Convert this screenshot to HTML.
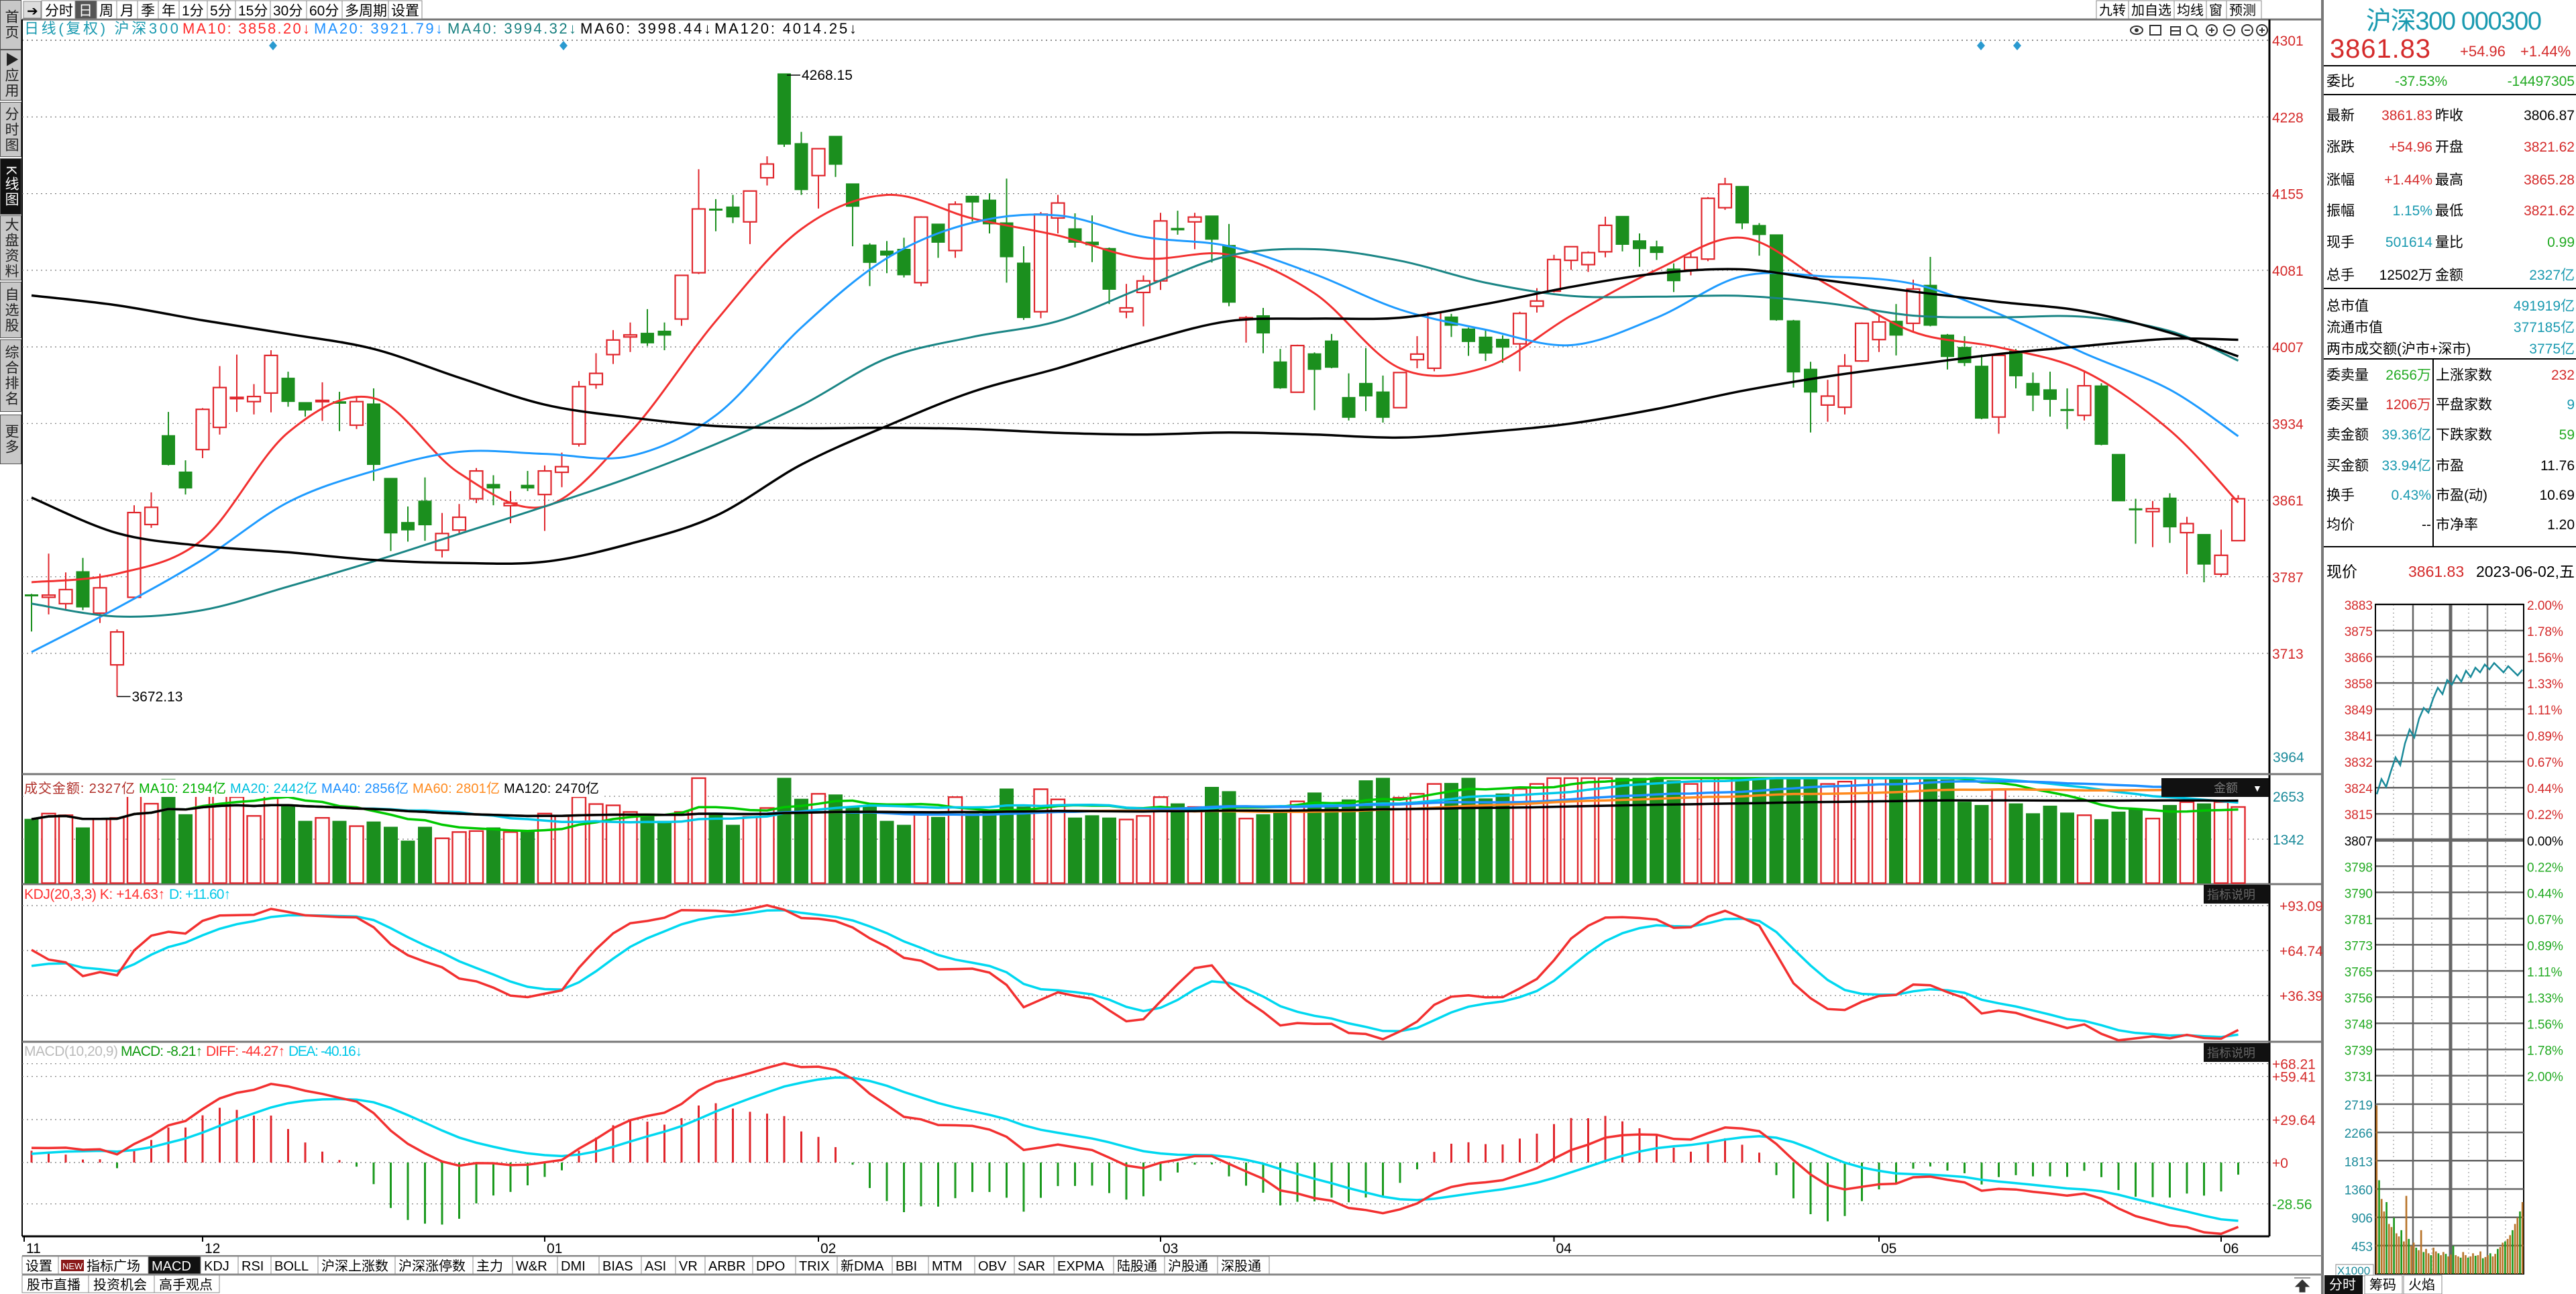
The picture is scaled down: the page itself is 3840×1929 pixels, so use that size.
<!DOCTYPE html>
<html><head><meta charset="utf-8"><title>沪深300 K线</title>
<style>
html,body{margin:0;padding:0;background:#fff;}
body{width:3840px;height:1929px;position:relative;overflow:hidden;font-family:"Liberation Sans","Noto Sans CJK SC",sans-serif;}
#sidebar{position:absolute;left:0;top:0;width:32px;height:700px;}
.sb{position:absolute;left:0;width:30px;background:#c8c8c8;border:1px solid #555;writing-mode:vertical-rl;font-size:21px;color:#222;display:flex;align-items:center;justify-content:center;letter-spacing:2px;font-family:"Liberation Sans","Noto Sans CJK SC",sans-serif;}
.sb.act{background:#111;color:#fff;}
svg text{font-family:"Liberation Sans","Noto Sans CJK SC",sans-serif;}
</style></head>
<body>
<div id="sidebar">
 <div class="sb" style="top:0;height:72px">首页</div>
 <div class="sb" style="top:74px;height:74px">▶应用</div>
 <div class="sb" style="top:152px;height:80px">分时图</div>
 <div class="sb act" style="top:236px;height:82px">K线图</div>
 <div class="sb" style="top:321px;height:95px">大盘资料</div>
 <div class="sb" style="top:420px;height:82px">自选股</div>
 <div class="sb" style="top:506px;height:106px">综合排名</div>
 <div class="sb" style="top:618px;height:72px">更多</div>
</div>
<svg id="chart" width="3840" height="1929" viewBox="0 0 3840 1929" style="position:absolute;left:0;top:0">
<g id="static">
 <rect x="33" y="0" width="3430" height="28" fill="#fff"/>
 <line x1="33" y1="29" x2="3462" y2="29" stroke="#777" stroke-width="3"/>
 <rect x="35" y="2" width="26" height="25" fill="#ddd" stroke="#888"/>
 <text x="40" y="23" font-size="20" fill="#000">➔</text>
 <g font-size="21" fill="#000">
  <rect x="62" y="1" width="50" height="27" fill="#fff" stroke="#888"/><text x="67" y="23">分时</text>
  <rect x="112" y="1" width="32" height="27" fill="#555" stroke="#888"/><text x="117" y="23" fill="#fff">日</text>
  <rect x="144" y="1" width="30" height="27" fill="#fff" stroke="#888"/><text x="148" y="23">周</text>
  <rect x="174" y="1" width="31" height="27" fill="#fff" stroke="#888"/><text x="179" y="23">月</text>
  <rect x="205" y="1" width="31" height="27" fill="#fff" stroke="#888"/><text x="210" y="23">季</text>
  <rect x="236" y="1" width="31" height="27" fill="#fff" stroke="#888"/><text x="241" y="23">年</text>
  <rect x="267" y="1" width="42" height="27" fill="#fff" stroke="#888"/><text x="271" y="23">1分</text>
  <rect x="309" y="1" width="42" height="27" fill="#fff" stroke="#888"/><text x="313" y="23">5分</text>
  <rect x="351" y="1" width="52" height="27" fill="#fff" stroke="#888"/><text x="355" y="23">15分</text>
  <rect x="403" y="1" width="54" height="27" fill="#fff" stroke="#888"/><text x="407" y="23">30分</text>
  <rect x="457" y="1" width="53" height="27" fill="#fff" stroke="#888"/><text x="461" y="23">60分</text>
  <rect x="510" y="1" width="69" height="27" fill="#fff" stroke="#888"/><text x="514" y="23">多周期</text>
  <rect x="579" y="1" width="50" height="27" fill="#fff" stroke="#888"/><text x="583" y="23">设置</text>
 </g>
 <g font-size="20" fill="#000">
  <rect x="3125" y="1" width="48" height="27" fill="#fff" stroke="#888"/><text x="3129" y="22">九转</text>
  <rect x="3173" y="1" width="68" height="27" fill="#fff" stroke="#888"/><text x="3177" y="22">加自选</text>
  <rect x="3241" y="1" width="48" height="27" fill="#fff" stroke="#888"/><text x="3245" y="22">均线</text>
  <rect x="3289" y="1" width="30" height="27" fill="#fff" stroke="#888"/><text x="3293" y="22">窗</text>
  <rect x="3319" y="1" width="52" height="27" fill="#fff" stroke="#888"/><text x="3323" y="22">预测</text>
 </g>
 <g font-size="22">
  <text x="36" y="50" fill="#1a9ab0" textLength="230">日线(复权)  沪深300</text>
  <text x="272" y="50" fill="#ff2a2a" textLength="190">MA10: 3858.20↓</text>
  <text x="468" y="50" fill="#1e90ff" textLength="192">MA20: 3921.79↓</text>
  <text x="667" y="50" fill="#198080" textLength="192">MA40: 3994.32↓</text>
  <text x="865" y="50" fill="#000" textLength="195">MA60: 3998.44↓</text>
  <text x="1065" y="50" fill="#000" textLength="212">MA120: 4014.25↓</text>
 </g>
 <line x1="33" y1="60" x2="3382" y2="60" stroke="#666" stroke-dasharray="2,5" stroke-width="1.5"/>
 <g fill="#2a9ad0">
  <path d="M407 61 L413 68 L407 75 L401 68Z"/><path d="M840 61 L846 68 L840 75 L834 68Z"/>
  <path d="M2953 61 L2959 68 L2953 75 L2947 68Z"/><path d="M3007 61 L3013 68 L3007 75 L3001 68Z"/>
 </g>
 <g stroke="#333" fill="none" stroke-width="2">
  <ellipse cx="3185" cy="45" rx="9" ry="6"/><circle cx="3185" cy="45" r="2" fill="#333"/>
  <rect x="3205" y="38" width="16" height="14"/>
  <path d="M3236 40 h14 v12 h-14z M3236 46 h14"/>
  <circle cx="3267" cy="45" r="7"/><path d="M3272 50 l5 5"/>
  <circle cx="3297" cy="45" r="8"/><path d="M3293 45 h8 M3297 41 v8"/>
  <circle cx="3323" cy="45" r="8"/><path d="M3319 45 h8"/>
  <circle cx="3350" cy="45" r="8"/><path d="M3346 45 h8"/>
  <circle cx="3372" cy="45" r="8"/><path d="M3368 45 h8 M3372 41 v8"/>
 </g>
 <line x1="33" y1="29" x2="33" y2="1843" stroke="#000" stroke-width="2"/>
 <line x1="3383" y1="29" x2="3383" y2="1843" stroke="#000" stroke-width="3"/>
 <line x1="33" y1="1154" x2="3462" y2="1154" stroke="#777" stroke-width="3"/>
 <line x1="33" y1="1318" x2="3462" y2="1318" stroke="#777" stroke-width="3"/>
 <line x1="33" y1="1553" x2="3462" y2="1553" stroke="#777" stroke-width="3"/>
 <line x1="33" y1="1843" x2="3383" y2="1843" stroke="#000" stroke-width="3"/>
 <line x1="3462" y1="0" x2="3462" y2="1929" stroke="#777" stroke-width="4"/>
 <g font-size="21">
  <text x="36" y="1340" fill="#ff3030" textLength="210">KDJ(20,3,3) K: +14.63↑</text>
  <text x="252" y="1340" fill="#00c8e8" textLength="92">D: +11.60↑</text>
 </g>
 <rect x="3285" y="1319" width="98" height="28" fill="#111"/>
 <text x="3290" y="1340" font-size="18" fill="#666">指标说明</text>
 <g font-size="21">
  <text x="36" y="1574" fill="#bbb" textLength="140">MACD(10,20,9)</text>
  <text x="180" y="1574" fill="#119911" textLength="122">MACD: -8.21↑</text>
  <text x="307" y="1574" fill="#ff3030" textLength="118">DIFF: -44.27↑</text>
  <text x="430" y="1574" fill="#00c8e8" textLength="110">DEA: -40.16↓</text>
 </g>
 <rect x="3285" y="1555" width="98" height="28" fill="#111"/>
 <text x="3290" y="1576" font-size="18" fill="#666">指标说明</text>
 <line x1="33" y1="1872" x2="3462" y2="1872" stroke="#888" stroke-width="2"/>
 <line x1="33" y1="1900" x2="3462" y2="1900" stroke="#888" stroke-width="3"/>
 <g id="tabs" font-size="20"></g>
 <g font-size="20" fill="#000">
  <rect x="33" y="1901" width="99" height="26" fill="#fff" stroke="#888"/><text x="40" y="1922">股市直播</text>
  <rect x="132" y="1901" width="98" height="26" fill="#fff" stroke="#888"/><text x="139" y="1922">投资机会</text>
  <rect x="230" y="1901" width="97" height="26" fill="#fff" stroke="#888"/><text x="237" y="1922">高手观点</text>
 </g>
 <path d="M3420 1905 h24 M3432 1908 l-10 10 h6 v8 h8 v-8 h6z" stroke="#333" fill="#333"/>
 <g>
  <text x="3527" y="44" font-size="38" fill="#1a9ab0" textLength="262">沪深300 000300</text>
  <text x="3473" y="86" font-size="40" fill="#d42a2a" textLength="150">3861.83</text>
  <text x="3667" y="84" font-size="22" fill="#d42a2a">+54.96</text>
  <text x="3757" y="84" font-size="22" fill="#d42a2a">+1.44%</text>
  <line x1="3464" y1="98" x2="3840" y2="98" stroke="#000" stroke-width="2"/>
  <g font-size="21">
   <text x="3468" y="128" fill="#000">委比</text><text x="3570" y="128" fill="#22aa22">-37.53%</text><text x="3838" y="128" fill="#22aa22" text-anchor="end">-14497305</text>
  </g>
  <line x1="3464" y1="141" x2="3840" y2="141" stroke="#000" stroke-width="2"/>
  <g id="quoteRows" font-size="21"></g>
  <line x1="3464" y1="430" x2="3840" y2="430" stroke="#000" stroke-width="2"/>
  <g font-size="21">
   <text x="3468" y="463" fill="#000">总市值</text><text x="3838" y="463" fill="#1a9ab0" text-anchor="end">491919亿</text>
   <text x="3468" y="495" fill="#000">流通市值</text><text x="3838" y="495" fill="#1a9ab0" text-anchor="end">377185亿</text>
   <text x="3468" y="527" fill="#000">两市成交额(沪市+深市)</text><text x="3838" y="527" fill="#1a9ab0" text-anchor="end">3775亿</text>
  </g>
  <line x1="3464" y1="535" x2="3840" y2="535" stroke="#000" stroke-width="2"/>
  <line x1="3627" y1="535" x2="3627" y2="815" stroke="#000" stroke-width="2"/>
  <g id="quoteRows2" font-size="21"></g>
  <line x1="3464" y1="815" x2="3840" y2="815" stroke="#000" stroke-width="2"/>
  <text x="3468" y="860" font-size="23" fill="#000">现价</text>
  <text x="3590" y="860" font-size="23" fill="#d42a2a">3861.83</text>
  <text x="3838" y="860" font-size="23" fill="#000" text-anchor="end">2023-06-02,五</text>
 </g>
 <g id="intraday"></g>
 <g>
  <rect x="3465" y="1901" width="57" height="28" fill="#111"/><text x="3472" y="1922" font-size="20" fill="#fff">分时</text>
  <rect x="3525" y="1901" width="56" height="28" fill="#fff" stroke="#888"/><text x="3532" y="1922" font-size="20">筹码</text>
  <rect x="3583" y="1901" width="57" height="28" fill="#fff" stroke="#888"/><text x="3590" y="1922" font-size="20">火焰</text>
 </g>
</g>
<g id="dyn"></g>
<g id="overlay">
 <rect x="35" y="1162" width="862" height="26" fill="#fff"/>
 <g font-size="20">
  <text x="36" y="1182" fill="#b0302a" textLength="165">成交金额: 2327亿</text>
  <text x="207" y="1182" fill="#00b000" textLength="130">MA10: 2194亿</text>
  <text x="343" y="1182" fill="#00c0e0" textLength="130">MA20: 2442亿</text>
  <text x="479" y="1182" fill="#1e90ff" textLength="130">MA40: 2856亿</text>
  <text x="615" y="1182" fill="#ff8a1e" textLength="130">MA60: 2801亿</text>
  <text x="751" y="1182" fill="#000" textLength="142">MA120: 2470亿</text>
 </g>
 <rect x="3222" y="1160" width="160" height="28" fill="#111"/>
 <text x="3300" y="1181" font-size="18" fill="#777">金额</text><text x="3358" y="1180" font-size="14" fill="#fff">▼</text>
</g>
</svg>
<script>
const opens=[3769.8,3767.3,3761.2,3792.0,3752.1,3702.5,3767.3,3837.1,3922.5,3887.6,3909.0,3930.3,3957.9,3955.0,3963.2,3977.6,3954.2,3955.0,3955.0,3932.4,3952.9,3881.5,3839.2,3859.7,3812.5,3831.8,3861.8,3875.7,3855.2,3874.9,3865.9,3887.2,3914.3,3971.4,4000.1,4017.0,4020.7,4022.7,4034.2,4078.6,4139.8,4141.8,4127.4,4169.7,4269.5,4202.6,4171.8,4209.6,4164.0,4105.3,4099.5,4101.2,4069.1,4125.4,4099.9,4152.1,4148.4,4126.6,4088.0,4041.2,4131.1,4120.9,4108.1,4102.0,4041.2,4059.7,4070.8,4121.3,4127.4,4133.2,4104.9,4033.8,4037.5,3993.2,3964.0,4001.0,4013.3,3959.1,3972.6,3964.4,3949.2,3995.2,3987.0,4036.3,4024.8,4017.0,4014.9,4010.4,4046.5,4060.9,4090.5,4086.4,4098.7,4132.8,4109.4,4103.6,4082.3,4081.4,4091.7,4141.0,4161.5,4124.1,4115.1,4032.6,3986.2,3951.7,3949.6,3994.0,4014.5,4032.2,4030.1,4066.7,4019.0,4007.1,3989.1,3940.2,4003.4,3972.6,3966.5,3947.6,3941.8,3970.2,3904.5,3852.3,3849.5,3862.6,3829.3,3827.7,3789.5,3821.62];
const closes=[3769.0,3769.4,3774.7,3757.9,3776.4,3734.1,3848.6,3853.6,3894.6,3872.0,3947.6,3968.5,3959.1,3959.9,3999.3,3955.0,3946.8,3956.2,3953.3,3955.0,3894.6,3828.9,3831.8,3836.7,3828.5,3844.1,3888.5,3872.0,3857.7,3872.0,3888.5,3892.6,3969.4,3982.1,4014.1,4019.0,4011.2,4018.6,4076.1,4139.8,4138.5,4132.0,4157.0,4182.9,4201.8,4158.2,4197.6,4182.5,4142.2,4088.4,4095.4,4076.5,4132.0,4107.7,4144.3,4146.3,4125.4,4093.8,4035.5,4134.8,4145.5,4107.7,4105.3,4062.6,4044.9,4070.8,4128.3,4119.6,4132.0,4110.6,4050.2,4035.5,4020.7,3968.1,4008.8,3985.8,3987.8,3939.8,3960.3,3939.8,3982.9,4000.6,4040.0,4028.1,4012.5,4001.4,4007.1,4039.6,4051.5,4091.3,4103.6,4097.9,4124.1,4105.7,4101.6,4097.9,4070.8,4093.4,4150.0,4163.6,4126.2,4115.1,4033.4,3983.3,3964.0,3960.3,3989.1,4030.1,4031.4,4018.6,4063.0,4028.1,3998.1,3992.3,3939.0,3999.3,3979.6,3961.1,3957.0,3946.4,3970.2,3913.9,3859.7,3851.1,3852.3,3834.7,3838.0,3799.0,3807.6,3861.83];
const highs=[3770.6,3809.2,3791.2,3805.1,3789.9,3736.5,3855.6,3867.9,3945.1,3898.7,3948.8,3989.1,4000.1,3971.8,4004.3,3983.7,3954.2,3973.5,3964.4,3960.3,3967.7,3881.5,3854.4,3882.3,3848.2,3856.8,3891.3,3884.4,3869.2,3888.5,3893.8,3906.1,3974.7,4001.4,4023.6,4030.9,4043.7,4030.9,4076.5,4177.9,4149.2,4153.3,4157.4,4190.3,4268.15,4213.7,4197.6,4209.6,4164.0,4106.9,4109.0,4112.2,4132.8,4125.4,4147.1,4152.1,4154.9,4168.9,4104.0,4136.9,4153.3,4135.6,4133.6,4102.8,4067.9,4076.1,4136.1,4138.1,4136.1,4133.2,4125.4,4037.1,4044.9,4005.5,4009.6,4002.2,4019.9,3982.1,4006.3,3980.0,3982.9,4017.8,4040.8,4039.2,4026.0,4024.0,4018.6,4041.2,4063.8,4095.8,4104.0,4099.1,4132.4,4132.8,4116.3,4109.4,4087.6,4097.9,4151.2,4169.7,4161.5,4126.2,4115.1,4033.4,3993.2,3975.9,4000.6,4030.9,4037.5,4048.6,4072.0,4093.8,4019.9,4017.8,4000.1,4000.1,4005.5,3982.9,3983.7,3967.7,3985.0,3972.6,3904.5,3861.8,3859.7,3867.1,3844.5,3827.7,3832.2,3865.28];
const lows=[3734.5,3750.9,3755.0,3755.0,3742.7,3672.13,3765.3,3833.9,3893.8,3865.9,3900.8,3923.4,3945.1,3942.7,3944.7,3950.1,3940.6,3936.5,3926.7,3928.7,3879.0,3811.7,3820.7,3821.5,3805.5,3828.9,3857.7,3855.6,3838.4,3869.2,3831.0,3872.9,3911.9,3967.3,3991.1,4002.6,4008.4,4004.3,4027.7,4077.3,4118.4,4126.2,4106.1,4162.3,4199.3,4153.3,4140.2,4170.5,4104.0,4065.8,4078.2,4074.1,4065.8,4092.9,4092.9,4127.8,4116.3,4069.1,4033.4,4035.0,4116.3,4102.8,4088.8,4048.6,4035.0,4027.2,4062.1,4115.1,4101.2,4088.4,4046.5,4011.6,4001.4,3967.3,3963.6,3946.8,3987.0,3936.9,3945.9,3934.9,3948.8,3987.0,3984.1,4017.0,3998.9,3994.0,3992.3,3984.1,4040.4,4059.7,4081.4,4079.4,4093.4,4099.1,4084.3,4090.9,4060.1,4076.1,4089.7,4138.9,4120.5,4095.0,4032.6,3968.5,3925.4,3935.7,3942.7,3993.2,4002.6,3999.3,4021.1,4027.2,3985.8,3989.1,3938.1,3924.2,3967.7,3945.9,3940.6,3928.7,3936.9,3913.1,3859.7,3818.7,3815.4,3819.5,3789.5,3781.7,3787.1,3821.62];
const volumes=[1954,2125,2075,1692,1974,1994,2971,2427,3172,2095,3031,2810,2628,2054,2749,2377,1893,1994,1893,1742,1873,1712,1289,1712,1370,1561,1591,1692,1561,1571,2125,2054,2628,2417,2377,2175,2075,1893,2175,3283,2125,1772,2024,2296,3384,2568,2729,2699,2326,2326,1893,1772,2175,2014,2628,2125,2226,2880,2326,2870,2558,1994,2064,1994,1944,2054,2628,2427,2326,2931,2800,1974,2095,2175,2498,2759,2427,2548,3132,3293,2608,2729,3031,3051,3233,2578,2729,2880,3031,3450,3500,3354,3233,3450,3313,3354,3132,3031,3384,3333,3132,3404,3600,3354,3384,3031,3102,3333,3333,3182,3333,3500,3152,2477,2377,2850,2427,2125,2357,2145,2075,1944,2175,2246,1974,2377,2477,2427,2477,2327];
const maIndex=[0,5,10,15,20,25,30,35,40,45,50,55,60,65,70,75,80,85,90,95,100,105,110,115,120,125,129];
const ma10=[3781.7,3789.9,3822.8,3925.4,3958.3,3886.4,3854.4,3925.4,4032.2,4120.5,4153.3,4130.7,4114.3,4092.5,4095.8,4058.9,3987.0,3987.8,4037.5,4081.4,4112.2,4067.1,4021.9,4007.1,3984.1,3927.5,3858.2];
const ma20=[3714.8,3757.1,3803.5,3858.5,3888.5,3906.9,3904.9,3902.8,3941.8,4026.0,4092.5,4126.6,4133.6,4113.1,4104.0,4077.3,4043.3,4024.0,4009.2,4035.5,4075.3,4074.9,4067.9,4039.2,4001.4,3966.5,3921.8];
const ma40=[3761.2,3748.9,3755.0,3777.6,3801.8,3828.1,3854.4,3882.3,3914.3,3951.3,3996.5,4017.0,4032.2,4064.6,4095.0,4101.2,4090.1,4069.1,4056.4,4055.6,4056.4,4049.4,4037.5,4035.9,4036.3,4022.7,3994.3];
const ma60=[3863.0,3828.9,3816.6,3810.5,3803.1,3800.2,3801.4,3818.7,3845.4,3894.6,3931.6,3964.4,3987.0,4012.1,4032.2,4034.6,4035.5,4048.6,4065.0,4077.8,4081.9,4071.2,4060.5,4050.7,4041.6,4021.1,3998.4];
const ma120=[4056.8,4047.4,4033.0,4019.9,4005.5,3978.0,3952.1,3939.8,3931.6,3929.5,3929.9,3928.7,3925.0,3923.4,3925.4,3923.4,3920.5,3925.8,3934.0,3948.0,3965.3,3979.2,3990.3,4000.6,4008.4,4015.3,4014.3];
const priceTicks=[4301.5,4228,4154.5,4081,4007.5,3934,3860.5,3787,3713.5];
const priceTickLabels=['4301','4228','4155','4081','4007','3934','3861','3787','3713'];
const volTicks=[2653,1342];
const kdjTicks=[93.09,64.74,36.39];
const kdjTickLabels=['+93.09','+64.74','+36.39'];
const macdTicks=[68.21,59.41,29.64,0,-28.56];
const macdTickLabels=['+68.21','+59.41','+29.64','+0','-28.56'];
const monthIdx=[0,10,30,46,66,89,108,128];
const monthLabels=['11','12','01','02','03','04','05','06'];
const tabLabels=['设置','NEW指标广场','MACD','KDJ','RSI','BOLL','沪深上涨数','沪深涨停数','主力','W&R','DMI','BIAS','ASI','VR','ARBR','DPO','TRIX','新DMA','BBI','MTM','OBV','SAR','EXPMA','陆股通','沪股通','深股通'];
const prevClose=3806.87;
const intraPrices=[3821.6,3826.5,3824.0,3829.0,3833.5,3831.0,3838.0,3842.5,3840.0,3846.0,3849.5,3848.0,3852.5,3856.0,3854.0,3858.5,3857.0,3860.0,3858.0,3861.5,3859.5,3862.5,3861.0,3863.5,3862.0,3864.0,3862.5,3861.0,3863.0,3861.5,3860.0,3861.83];
const intraVols=[2700,1500,1200,1000,1150,800,750,900,650,600,700,520,1250,560,450,500,420,380,700,350,400,330,300,420,360,330,300,350,320,280,310,450,300,280,260,350,300,260,280,330,290,300,360,250,270,300,330,280,320,400,430,500,520,560,620,700,800,900,1000,1150];
const quoteLeft=[['最新','3861.83','#d42a2a'],['涨跌','+54.96','#d42a2a'],['涨幅','+1.44%','#d42a2a'],['振幅','1.15%','#1a9ab0'],['现手','501614','#1a9ab0'],['总手','12502万','#000']];
const quoteRight=[['昨收','3806.87','#000'],['开盘','3821.62','#d42a2a'],['最高','3865.28','#d42a2a'],['最低','3821.62','#d42a2a'],['量比','0.99','#22aa22'],['金额','2327亿','#1a9ab0']];
const quoteLeft2=[['委卖量','2656万','#22aa22'],['委买量','1206万','#d42a2a'],['卖金额','39.36亿','#1a9ab0'],['买金额','33.94亿','#1a9ab0'],['换手','0.43%','#1a9ab0'],['均价','--','#000']];
const quoteRight2=[['上涨家数','232','#d42a2a'],['平盘家数','9','#1a9ab0'],['下跌家数','59','#22aa22'],['市盈','11.76','#000'],['市盈(动)','10.69','#000'],['市净率','1.20','#000']];

const NS='http://www.w3.org/2000/svg';
function mk(tag,attrs,parent){const e=document.createElementNS(NS,tag);for(const k in attrs)e.setAttribute(k,attrs[k]);parent.appendChild(e);return e;}
const dyn=document.getElementById('dyn');
const UP='#e0262c', DN='#1b8f1e';
const X0=47, DX=25.5;
function xOf(i){return X0+DX*i;}
function yP(p){return 174.4+(4228-p)*1.5542;}
function yV(v){return Math.max(1160,1316.5-v/20.5);}
function yK(v){return 1350+(93.09-v)*2.364;}
function yM(v){return 1733-v*2.16;}
function smooth(pts){let d='M'+pts[0][0].toFixed(1)+' '+pts[0][1].toFixed(1);
 for(let i=0;i<pts.length-1;i++){const p0=pts[Math.max(0,i-1)],p1=pts[i],p2=pts[i+1],p3=pts[Math.min(pts.length-1,i+2)];
  const c1x=p1[0]+(p2[0]-p0[0])/6,c1y=p1[1]+(p2[1]-p0[1])/6,c2x=p2[0]-(p3[0]-p1[0])/6,c2y=p2[1]-(p3[1]-p1[1])/6;
  d+=' C'+c1x.toFixed(1)+' '+c1y.toFixed(1)+' '+c2x.toFixed(1)+' '+c2y.toFixed(1)+' '+p2[0].toFixed(1)+' '+p2[1].toFixed(1);}
 return d;}
function poly(xs,ys){return xs.map((x,i)=>(i?'L':'M')+x.toFixed(1)+' '+ys[i].toFixed(1)).join(' ');}

priceTicks.forEach((p,k)=>{
 const y=yP(p);
 if(k>0){const g=mk('line',{x1:33,y1:y,x2:3382,y2:y,stroke:'#777','stroke-width':1.2,'stroke-dasharray':'2,5'},dyn);
 
 }
 const t=mk('text',{x:3387,y:y+8,'font-size':21,fill:'#d42a2a'},dyn);t.textContent=priceTickLabels[k];
 
 
});
for(let i=0;i<closes.length;i++){
 const x=xOf(i), up=closes[i]>=opens[i], col=up?UP:DN;
 const yo=yP(opens[i]), yc=yP(closes[i]);
 const top=Math.min(yo,yc), bot=Math.max(yo,yc);
 const w1=mk('line',{x1:x,y1:yP(highs[i]),x2:x,y2:top,stroke:col,'stroke-width':2},dyn);
 
 
 const w2=mk('line',{x1:x,y1:bot,x2:x,y2:yP(lows[i]),stroke:col,'stroke-width':2},dyn);
 
 
 const b=mk('rect',{x:x-9.5,y:top,width:19,height:Math.max(bot-top,2),fill:up?'#fff':col,stroke:col,'stroke-width':up?2.2:1},dyn);
 
 
}
[[ma10,'#f23030'],[ma20,'#1e9bff'],[ma40,'#1a8585'],[ma60,'#000'],[ma120,'#000']].forEach((s,k)=>{
 const pts=maIndex.map((ix,j)=>[xOf(ix),yP(s[0][j])]);
 const p=mk('path',{d:smooth(pts),fill:'none',stroke:s[1],'stroke-width':k>=3?3.5:3},dyn);
 
 
});
(function(){
 let hi=0,lo=0;for(let i=0;i<highs.length;i++){if(highs[i]>highs[hi])hi=i;if(lows[i]<lows[lo])lo=i;}
 const hx=xOf(hi),hy=yP(highs[hi]);
 mk('line',{x1:hx+4,y1:hy,x2:hx+24,y2:hy,stroke:'#000','stroke-width':1.5},dyn);
 const ht=mk('text',{x:hx+26,y:hy+7,'font-size':21,fill:'#000'},dyn);ht.textContent=highs[hi].toFixed(2);
 
 
 const lx=xOf(lo),ly=yP(lows[lo]);
 mk('line',{x1:lx,y1:ly,x2:lx+20,y2:ly,stroke:'#000','stroke-width':1.5},dyn);
 const lt=mk('text',{x:lx+22,y:ly+7,'font-size':21,fill:'#000'},dyn);lt.textContent=lows[lo].toFixed(2);
 
 
})();
volTicks.forEach(v=>{
 const y=1316.5-v/20.5;
 const g=mk('line',{x1:33,y1:y,x2:3382,y2:y,stroke:'#777','stroke-width':1.2,'stroke-dasharray':'2,5'},dyn);
 
 
 const t=mk('text',{x:3388,y:y+8,'font-size':21,fill:'#1a8a9a'},dyn);t.textContent=String(v);
 
 
});
(function(){const t=mk('text',{x:3388,y:1136,'font-size':21,fill:'#1a8a9a'},dyn);t.textContent='3964';
 
 })();
for(let i=0;i<volumes.length;i++){
 const up=closes[i]>=opens[i], col=up?UP:DN, x=xOf(i), y=yV(volumes[i]);
 const r=mk('rect',{x:x-10,y:y,width:20,height:1316.5-y,fill:up?'#fff':col,stroke:col,'stroke-width':up?2.4:1},dyn);
 
 
}
[[10,'#00c800'],[20,'#00c8e8'],[40,'#1e90ff'],[60,'#ff8a1e'],[120,'#000']].forEach(([n,c])=>{
 const xs=[],ys=[];
 for(let i=0;i<volumes.length;i++){let s=0,m=0;for(let j=Math.max(0,i-n+1);j<=i;j++){s+=volumes[j];m++;}xs.push(xOf(i));ys.push(yV(s/m));}
 const p=mk('path',{d:poly(xs,ys),fill:'none',stroke:c,'stroke-width':3.5},dyn);
 
 
});
const K=[],D=[];
(function(){let k=50,d=50;for(let i=0;i<closes.length;i++){let hh=-1e9,ll=1e9;for(let j=Math.max(0,i-19);j<=i;j++){hh=Math.max(hh,highs[j]);ll=Math.min(ll,lows[j]);}
 const rsv=hh>ll?(closes[i]-ll)/(hh-ll)*100:50;k=k*2/3+rsv/3;d=d*2/3+k/3;K.push(k);D.push(d);}})();
kdjTicks.forEach((v,k)=>{const y=yK(v);
 const g=mk('line',{x1:33,y1:y,x2:3382,y2:y,stroke:'#777','stroke-width':1.2,'stroke-dasharray':'2,5'},dyn);
 
 
 const t=mk('text',{x:3398,y:y+8,'font-size':21,fill:'#d42a2a'},dyn);t.textContent=kdjTickLabels[k];
 
 });
(function(){const xs=K.map((_,i)=>xOf(i));
 const pd=mk('path',{d:poly(xs,D.map(yK)),fill:'none',stroke:'#00d8f0','stroke-width':3.5},dyn);
 
 
 const pk=mk('path',{d:poly(xs,K.map(yK)),fill:'none',stroke:'#f23030','stroke-width':3.5},dyn);
 
 })();
const DIFF=[],DEA=[],HIST=[];
(function(){let e1=closes[0]-12,e2=closes[0]-22,de=5;for(let i=0;i<closes.length;i++){e1+=2/11*(closes[i]-e1);e2+=2/21*(closes[i]-e2);const df=e1-e2;de+=2/10*(df-de);DIFF.push(df);DEA.push(de);HIST.push(2*(df-de));}})();
macdTicks.forEach((v,k)=>{const y=yM(v);
 const g=mk('line',{x1:33,y1:y,x2:3382,y2:y,stroke:'#777','stroke-width':1.2,'stroke-dasharray':'2,5'},dyn);
 
 
 const t=mk('text',{x:3387,y:y+8,'font-size':21,fill:v<0?'#22aa22':'#d42a2a'},dyn);t.textContent=macdTickLabels[k];
 
 });
for(let i=0;i<HIST.length;i++){
 const h=mk('line',{x1:xOf(i),y1:yM(0),x2:xOf(i),y2:yM(HIST[i]),stroke:HIST[i]>=0?'#e0262c':'#1b9a1e','stroke-width':3},dyn);
 
 
}
(function(){const xs=DIFF.map((_,i)=>xOf(i));
 const pe=mk('path',{d:poly(xs,DEA.map(yM)),fill:'none',stroke:'#00d8f0','stroke-width':3.5},dyn);
 
 
 const pf=mk('path',{d:poly(xs,DIFF.map(yM)),fill:'none',stroke:'#f23030','stroke-width':3.5},dyn);
 
 })();
monthIdx.forEach((ix,k)=>{const x=ix===0?36:xOf(ix);
 mk('line',{x1:x,y1:1843,x2:x,y2:1851,stroke:'#000','stroke-width':2},dyn);
 const t=mk('text',{x:x+3,y:1868,'font-size':21,fill:'#000'},dyn);t.textContent=monthLabels[k];
 
 });
(function(){const g=document.getElementById('tabs');let x=33;
 const widths=[54,134,78,56,49,70,115,116,59,67,62,63,51,44,71,64,62,82,54,69,59,59,89,76,79,77];
 tabLabels.forEach((lab,k)=>{const act=lab==='MACD';
  const r=mk('rect',{x:x,y:1873,width:widths[k],height:26,fill:act?'#111':'#fff',stroke:'#888'},g);
  
  
  if(lab.startsWith('NEW')){mk('rect',{x:x+4,y:1878,width:34,height:17,fill:'#8b1a1a'},g);
   const n=mk('text',{x:x+6,y:1892,'font-size':13,fill:'#fff'},g);n.textContent='NEW';
   const t=mk('text',{x:x+42,y:1894,'font-size':20,fill:'#000'},g);t.textContent=lab.slice(3);}
  else{const t=mk('text',{x:x+5,y:1894,'font-size':20,fill:act?'#fff':'#000'},g);t.textContent=lab;}
  x+=widths[k];});})();
(function(){const g=document.getElementById('quoteRows');const ys=[179,226,275,321,368,417];
 ys.forEach((y,k)=>{
  const a=mk('text',{x:3468,y:y,fill:'#000'},g);a.textContent=quoteLeft[k][0];
  const b=mk('text',{x:3626,y:y,fill:quoteLeft[k][2],'text-anchor':'end'},g);b.textContent=quoteLeft[k][1];
  
  
  const c=mk('text',{x:3630,y:y,fill:'#000'},g);c.textContent=quoteRight[k][0];
  const d=mk('text',{x:3838,y:y,fill:quoteRight[k][2],'text-anchor':'end'},g);d.textContent=quoteRight[k][1];
  
  });
 const g2=document.getElementById('quoteRows2');const ys2=[566,610,655,701,745,789];
 ys2.forEach((y,k)=>{
  const a=mk('text',{x:3468,y:y,fill:'#000'},g2);a.textContent=quoteLeft2[k][0];
  const b=mk('text',{x:3624,y:y,fill:quoteLeft2[k][2],'text-anchor':'end'},g2);b.textContent=quoteLeft2[k][1];
  
  
  const c=mk('text',{x:3631,y:y,fill:'#000'},g2);c.textContent=quoteRight2[k][0];
  const d=mk('text',{x:3838,y:y,fill:quoteRight2[k][2],'text-anchor':'end'},g2);d.textContent=quoteRight2[k][1];
  
  });})();
(function(){const g=document.getElementById('intraday');
 const L=3541,R=3762,T=901,B=1603.5,VB=1899,PX=(B-T)/(2*prevClose*0.02);
 function yI(p){return 1252-(p-prevClose)*PX;}
 const n=19;
 for(let k=0;k<n;k++){const y=T+k*(B-T)/18;
  mk('line',{x1:L,y1:y,x2:R,y2:y,stroke:'#666','stroke-width':k===9?5:2.5},g);
  const p=prevClose+prevClose*0.02*(9-k)/9;
  const t=mk('text',{x:3537,y:y+8,'font-size':19,fill:k<9?'#d42a2a':(k===9?'#000':'#22aa22'),'text-anchor':'end'},g);t.textContent=Math.round(p);
  
  
  const pc=(Math.abs(9-k)/9*2).toFixed(2)+'%';
  const t2=mk('text',{x:3767,y:y+8,'font-size':19,fill:k<9?'#d42a2a':(k===9?'#000':'#22aa22')},g);t2.textContent=pc;
  
  }
 [3597,3708].forEach(x=>mk('line',{x1:x,y1:T,x2:x,y2:VB,stroke:'#666','stroke-width':2.5},g));
 mk('line',{x1:3653,y1:T,x2:3653,y2:VB,stroke:'#666','stroke-width':5},g);
 [3568,3625,3680,3735].forEach(x=>mk('line',{x1:x,y1:T,x2:x,y2:VB,stroke:'#888','stroke-width':1,'stroke-dasharray':'2,4'},g));
 mk('rect',{x:L,y:T,width:R-L,height:VB-T,fill:'none',stroke:'#000','stroke-width':2},g);
 const volTickV=[2719,2266,1813,1360,906,453];const VPX=(VB-1646)/2719;
 volTickV.forEach(v=>{const y=VB-v*VPX;mk('line',{x1:L,y1:y,x2:R,y2:y,stroke:'#666','stroke-width':2.5},g);
  const t=mk('text',{x:3537,y:y+8,'font-size':19,fill:'#1a8a9a','text-anchor':'end'},g);t.textContent=String(v);
  
  });
 mk('rect',{x:3482,y:1885,width:56,height:17,fill:'#fff',stroke:'#888'},g);
 const xt=mk('text',{x:3484,y:1900,'font-size':17,fill:'#1a8a9a'},g);xt.textContent='X1000';
 const vw=(R-L)/intraVols.length;
 intraVols.forEach((v,k)=>{const b=mk('rect',{x:L+k*vw+0.5,y:VB-v*VPX,width:Math.max(vw-1,1.5),height:v*VPX,fill:k%3===1?'#1e9a1e':'#b8742a'},g);
  
  });
 const xs=intraPrices.map((_,k)=>L+2+k*(R-L-4)/(intraPrices.length-1));
 const pl=mk('path',{d:poly(xs,intraPrices.map(yI)),fill:'none',stroke:'#1a8a9a','stroke-width':2.5},g);
 
 
})();
</script>
</body></html>
